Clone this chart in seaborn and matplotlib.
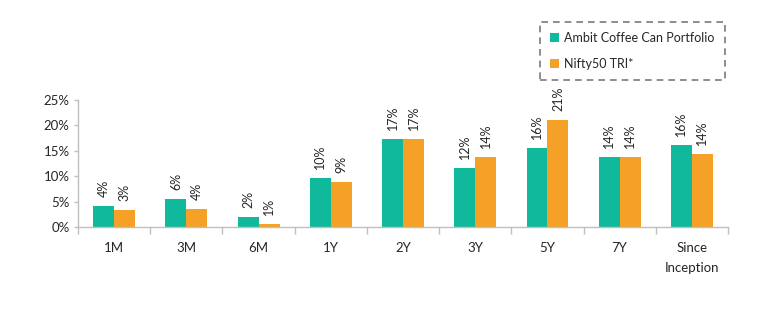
import matplotlib
matplotlib.use("Agg")
import matplotlib.pyplot as plt
import seaborn as sns
import pandas as pd
from matplotlib.ticker import FuncFormatter, FixedLocator

periods = ["1M", "3M", "6M", "1Y", "2Y", "3Y", "5Y", "7Y", "Since\nInception"]
series_names = ["Ambit Coffee Can Portfolio", "Nifty50 TRI*"]
coffee_can = [4.1, 5.5, 2.0, 9.6, 17.3, 11.6, 15.6, 13.8, 16.2]
nifty50_tri = [3.4, 3.6, 0.7, 8.9, 17.3, 13.7, 21.1, 13.7, 14.3]
y_ticks = [0, 5, 10, 15, 20, 25]

colors = ["#10B99C", "#F5A027"]
text_color = "#262626"
axis_color = "#BFBFBF"

df = pd.DataFrame({
    "period": periods * 2,
    "series": [series_names[0]] * len(periods) + [series_names[1]] * len(periods),
    "value": coffee_can + nifty50_tri,
})

sns.set_theme(style="white")
plt.rcParams["font.family"] = ["Lato", "DejaVu Sans"]

fig = plt.figure(figsize=(7.62, 3.34), dpi=100)
ax = fig.add_axes([0.1024, 0.320, 0.853, 0.381])

sns.barplot(data=df, x="period", y="value", hue="series", palette=colors,
            width=0.58, gap=0, saturation=1, ax=ax, legend=True, order=periods,
            hue_order=series_names, linewidth=0, edgecolor="none")

# value labels above each bar, rotated
for container in ax.containers:
    for bar in container:
        h = bar.get_height()
        ax.annotate(f"{h:.0f}%", (bar.get_x() + bar.get_width() / 2, h),
                    xytext=(0, 6.5), textcoords="offset points",
                    rotation=90, ha="center", va="bottom",
                    fontsize=9, color=text_color)

ax.set_ylim(0, 25)
ax.set_xlim(-0.5, len(periods) - 0.5)
ax.set_yticks(y_ticks)
ax.yaxis.set_major_formatter(FuncFormatter(lambda v, p: f"{v:.0f}%"))
ax.set_xlabel("")
ax.set_ylabel("")

for side in ["top", "right"]:
    ax.spines[side].set_visible(False)
for side in ["left", "bottom"]:
    ax.spines[side].set_color(axis_color)
    ax.spines[side].set_linewidth(1.0)

ax.tick_params(axis="y", which="major", left=True, length=3, width=1,
               color=axis_color, labelsize=9.5, labelcolor=text_color, pad=3)
ax.tick_params(axis="x", which="major", bottom=False, labelsize=9.5,
               labelcolor=text_color, pad=5)
ax.xaxis.set_minor_locator(FixedLocator([i - 0.5 for i in range(len(periods) + 1)]))
ax.tick_params(axis="x", which="minor", bottom=True, length=5, width=1,
               color=axis_color)
for lbl in ax.get_xticklabels():
    lbl.set_linespacing(1.8)
    lbl.set_va("top")

handles, labels = ax.get_legend_handles_labels()
ax.legend_.remove()
leg = fig.legend(handles, labels, loc="upper left",
                 bbox_to_anchor=(540 / 762, 1 - 22 / 334),
                 frameon=True, fancybox=False, fontsize=9,
                 handlelength=0.75, handleheight=0.75, handletextpad=0.4,
                 labelspacing=1.1, borderpad=0.8, borderaxespad=0)
frame = leg.get_frame()
frame.set_linestyle((0, (4, 3)))
frame.set_edgecolor("#595959")
frame.set_linewidth(1.2)
frame.set_facecolor("white")
for t in leg.get_texts():
    t.set_color(text_color)

fig.savefig("out.png", dpi=100, facecolor="white")
